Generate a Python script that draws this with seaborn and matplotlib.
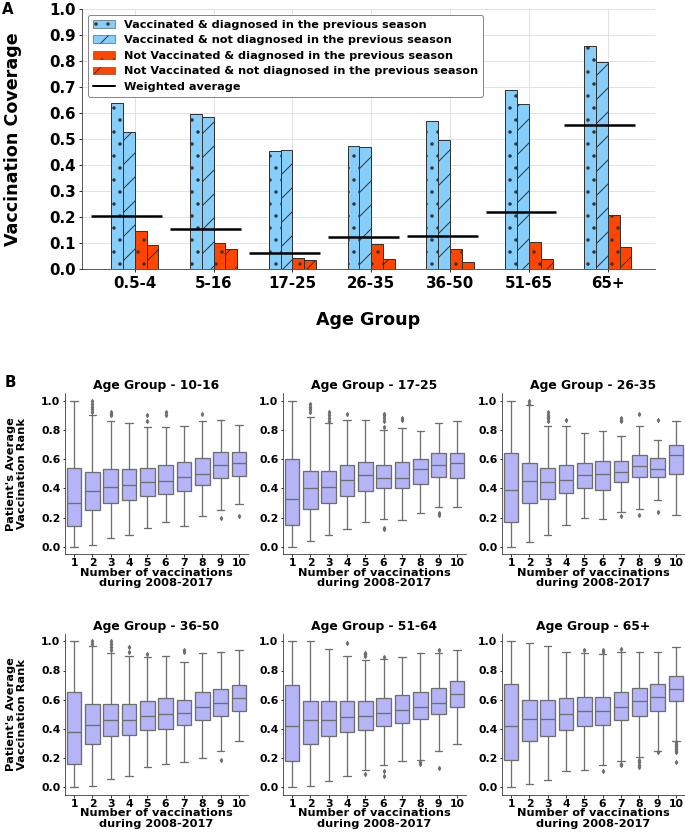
import numpy as np
import pandas as pd
import seaborn as sns
import matplotlib.pyplot as plt
from matplotlib.patches import Patch
from matplotlib.lines import Line2D

# A) vaccination coverage by age group
age_groups = ["0.5-4", "5-16", "17-25", "26-35", "36-50", "51-65", "65+"]
series = ["Vaccinated & diagnosed in the previous season",
          "Vaccinated & not diagnosed in the previous season",
          "Not Vaccinated & diagnosed in the previous season",
          "Not Vaccinated & not diagnosed in the previous season"]
vacc_diag = [0.640, 0.598, 0.452, 0.475, 0.568, 0.690, 0.856]
vacc_not_diag = [0.528, 0.586, 0.459, 0.469, 0.495, 0.635, 0.798]
notvacc_diag = [0.148, 0.100, 0.042, 0.096, 0.077, 0.104, 0.209]
notvacc_not_diag = [0.093, 0.077, 0.036, 0.039, 0.028, 0.040, 0.086]
weighted_avg = [0.205, 0.153, 0.060, 0.122, 0.126, 0.220, 0.555]

# B) average vaccination rank vs number of vaccinations
box_groups = ["10-16", "17-25", "26-35", "36-50", "51-64", "65+"]
n_vacc = ["1", "2", "3", "4", "5", "6", "7", "8", "9", "10"]
whislo = [[0.00, 0.01, 0.06, 0.08, 0.13, 0.17, 0.14, 0.21, 0.25, 0.29],
          [0.00, 0.04, 0.08, 0.12, 0.17, 0.19, 0.18, 0.23, 0.27, 0.27],
          [0.00, 0.03, 0.08, 0.15, 0.20, 0.19, 0.24, 0.26, 0.32, 0.22],
          [0.00, 0.01, 0.06, 0.08, 0.14, 0.16, 0.17, 0.20, 0.25, 0.32],
          [0.00, 0.01, 0.04, 0.08, 0.12, 0.15, 0.18, 0.19, 0.25, 0.30],
          [0.00, 0.02, 0.05, 0.11, 0.12, 0.15, 0.18, 0.21, 0.25, 0.32]]
q1 = [[0.14, 0.25, 0.30, 0.32, 0.35, 0.36, 0.38, 0.42, 0.47, 0.485],
      [0.15, 0.26, 0.30, 0.35, 0.38, 0.40, 0.40, 0.43, 0.48, 0.47],
      [0.17, 0.30, 0.33, 0.37, 0.40, 0.39, 0.44, 0.48, 0.48, 0.50],
      [0.16, 0.30, 0.35, 0.36, 0.39, 0.40, 0.43, 0.46, 0.49, 0.52],
      [0.18, 0.30, 0.35, 0.38, 0.39, 0.42, 0.44, 0.47, 0.50, 0.55],
      [0.19, 0.32, 0.35, 0.39, 0.42, 0.43, 0.46, 0.49, 0.52, 0.59]]
med = [[0.30, 0.38, 0.41, 0.42, 0.44, 0.45, 0.48, 0.50, 0.56, 0.575],
       [0.33, 0.40, 0.41, 0.46, 0.49, 0.47, 0.47, 0.53, 0.56, 0.57],
       [0.39, 0.45, 0.44, 0.46, 0.49, 0.50, 0.51, 0.55, 0.53, 0.63],
       [0.38, 0.43, 0.46, 0.46, 0.49, 0.50, 0.51, 0.55, 0.58, 0.61],
       [0.42, 0.46, 0.46, 0.48, 0.49, 0.51, 0.53, 0.55, 0.58, 0.64],
       [0.42, 0.47, 0.47, 0.50, 0.52, 0.52, 0.55, 0.59, 0.62, 0.67]]
q3 = [[0.54, 0.51, 0.53, 0.53, 0.54, 0.56, 0.58, 0.61, 0.65, 0.65],
      [0.60, 0.52, 0.52, 0.56, 0.58, 0.56, 0.58, 0.60, 0.64, 0.64],
      [0.64, 0.57, 0.54, 0.56, 0.57, 0.59, 0.59, 0.63, 0.61, 0.70],
      [0.65, 0.57, 0.57, 0.57, 0.59, 0.61, 0.60, 0.65, 0.67, 0.70],
      [0.70, 0.59, 0.59, 0.59, 0.59, 0.61, 0.63, 0.65, 0.68, 0.73],
      [0.71, 0.60, 0.60, 0.61, 0.62, 0.62, 0.65, 0.68, 0.71, 0.76]]
whishi = [[1.00, 0.90, 0.86, 0.85, 0.82, 0.82, 0.83, 0.86, 0.87, 0.835],
          [1.00, 0.89, 0.85, 0.87, 0.87, 0.80, 0.81, 0.79, 0.85, 0.86],
          [1.00, 0.97, 0.83, 0.83, 0.78, 0.79, 0.76, 0.83, 0.73, 0.86],
          [1.00, 0.97, 0.92, 0.90, 0.89, 0.90, 0.86, 0.92, 0.93, 0.94],
          [1.00, 1.00, 0.95, 0.90, 0.87, 0.88, 0.89, 0.92, 0.92, 0.94],
          [1.00, 0.99, 0.97, 0.93, 0.92, 0.91, 0.93, 0.93, 0.93, 0.96]]
fliers = [[[], [0.92, 0.94, 0.96, 0.98, 1.0], [0.90, 0.91, 0.92], [],
           [0.86, 0.90], [0.90, 0.92], [], [0.91], [0.20], [0.21]],
          [[], [0.92, 0.94, 0.96, 0.98], [0.86, 0.88, 0.90, 0.92], [0.91], [],
           [0.12, 0.13, 0.82, 0.86, 0.88, 0.90, 0.91], [0.87, 0.88], [],
           [0.22, 0.23], []],
          [[], [0.98, 1.0], [0.86, 0.88, 0.89, 0.90, 0.92], [0.87], [], [],
           [0.21, 0.86, 0.87, 0.88], [0.22, 0.91], [0.24, 0.87], []],
          [[], [0.98, 1.0], [0.94, 0.96, 0.98, 1.0], [0.93, 0.96], [0.91], [],
           [0.93, 0.94], [], [0.19], []],
          [[], [], [], [0.99], [0.09, 0.90, 0.91, 0.92], [0.08, 0.11, 0.89],
           [], [0.16, 0.17], [0.13, 0.94], []],
          [[], [], [], [], [0.94], [0.11, 0.93, 0.94], [0.15, 0.16, 0.95],
           [0.14, 0.15, 0.17, 0.19], [0.24],
           [0.17, 0.24, 0.25, 0.26, 0.27, 0.28, 0.29, 0.30, 0.31]]]

blue = "#87CEFA"
red = "#FF4500"
box_color = "#b4b4f6"
line_color = "#6e6e6e"

sns.set_style("ticks")
plt.rcParams["font.family"] = ["DejaVu Sans"]
plt.rcParams["font.weight"] = "bold"
plt.rcParams["axes.labelweight"] = "bold"
plt.rcParams["axes.titleweight"] = "bold"
plt.rcParams["text.color"] = "black"
plt.rcParams["axes.labelcolor"] = "black"
plt.rcParams["xtick.color"] = "black"
plt.rcParams["ytick.color"] = "black"
plt.rcParams["axes.edgecolor"] = "#333333"

W, H = 685, 835
fig = plt.figure(figsize=(W / 72, H / 72), dpi=72)

# ---- panel A
ax0 = fig.add_axes([82 / W, 1 - 269 / H, 573 / W, 260 / H])
df = pd.DataFrame({"age": age_groups * 4,
                   "series": np.repeat(series, len(age_groups)),
                   "coverage": vacc_diag + vacc_not_diag + notvacc_diag
                   + notvacc_not_diag})
colors = [blue, blue, red, red]
hatches = [".", "/", ".", "/"]
sns.barplot(data=df, x="age", y="coverage", hue="series", hue_order=series,
            palette=colors, width=0.6, edgecolor="#333333", linewidth=1,
            saturation=1, legend=False, ax=ax0, zorder=2)
for cont, h in zip(ax0.containers, hatches):
    for bar in cont:
        bar.set_hatch(h)

xs = np.arange(len(age_groups)) - 0.1
ax0.hlines(weighted_avg, xs - 0.45, xs + 0.45, color="black", lw=2.5,
           zorder=3)

ax0.set_xlim(-0.67, 6.6)
ax0.set_ylim(0, 1.0)
ax0.set_yticks(np.arange(0, 1.01, 0.1))
ax0.set_yticklabels([f"{v:.1f}" for v in np.arange(0, 1.01, 0.1)])
ax0.grid(True, color="#e2e2e2", lw=1, zorder=0)
ax0.set_axisbelow(True)
ax0.tick_params(labelsize=15, length=3)
ax0.set_xlabel("Age Group", fontsize=17.5)
ax0.set_ylabel("Vaccination Coverage", fontsize=17.5)
ax0.xaxis.set_label_coords(0.5, -0.16)
ax0.yaxis.set_label_coords(-0.105, 0.5)
sns.despine(ax=ax0)

handles = [Patch(facecolor=c, edgecolor="#333333", hatch=h, lw=0.5)
           for c, h in zip(colors, hatches)]
handles.append(Line2D([0], [0], color="black", lw=2))
ax0.legend(handles, series + ["Weighted average"], loc="upper left",
           bbox_to_anchor=(0.0105, 0.977), fontsize=11.3, edgecolor="#888888",
           framealpha=1, labelspacing=0.5, borderaxespad=0)

fig.text(2 / W, 1 - 2 / H, "A", fontsize=15, va="top", ha="left")
fig.text(5 / W, 1 - 375 / H, "B", fontsize=15, va="top", ha="left")

# ---- panel B
lefts = [65, 283, 502]
bottoms = [554, 794.6]
for k, grp in enumerate(box_groups):
    r, c = divmod(k, 3)
    ax = fig.add_axes([lefts[c] / W, 1 - bottoms[r] / H, 183 / W, 160.6 / H])
    stats = [dict(whislo=whislo[k][i], q1=q1[k][i], med=med[k][i],
                  q3=q3[k][i], whishi=whishi[k][i], fliers=fliers[k][i])
             for i in range(len(n_vacc))]
    ax.bxp(stats, positions=range(len(n_vacc)), widths=0.8, patch_artist=True,
           boxprops=dict(facecolor=box_color, edgecolor=line_color, lw=1.3),
           whiskerprops=dict(color=line_color, lw=1.3),
           capprops=dict(color=line_color, lw=1.3),
           medianprops=dict(color=line_color, lw=1.3),
           flierprops=dict(marker="d", markersize=3, markerfacecolor=line_color,
                           markeredgecolor=line_color))
    ax.set_xticks(range(len(n_vacc)))
    ax.set_xticklabels(n_vacc)
    ax.set_xlim(-0.5, 9.5)
    ax.set_ylim(-0.05, 1.05)
    ax.set_yticks([0, 0.2, 0.4, 0.6, 0.8, 1.0])
    ax.set_yticklabels(["0.0", "0.2", "0.4", "0.6", "0.8", "1.0"])
    ax.tick_params(labelsize=10.9, length=2.5, pad=2)
    ax.set_title(f"Age Group - {grp}", fontsize=12.4, pad=4)
    ax.set_xlabel("Number of vaccinations\nduring 2008-2017", fontsize=11.4,
                  linespacing=1.05)
    ax.xaxis.set_label_coords(0.5, -0.085)
    if c == 0:
        ax.set_ylabel("Patient's Average\nVaccination Rank", fontsize=11.4,
                      linespacing=1.05)
        ax.yaxis.set_label_coords(-0.21, 0.5)
    sns.despine(ax=ax)

fig.savefig("out.png", dpi=72)
plt.close("all")
